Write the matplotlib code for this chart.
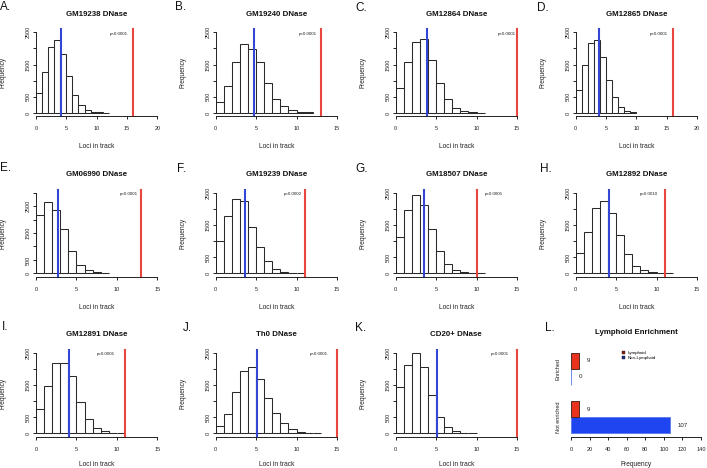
import matplotlib
matplotlib.use("Agg")
import matplotlib.pyplot as plt
from matplotlib.patches import Patch
import numpy as np

plt.rcParams['font.family'] = ['Liberation Sans', 'DejaVu Sans']

# ---------------- data ----------------
panel_letters = ["A.", "B.", "C.", "D.", "E.", "F.", "G.", "H.", "I.", "J.", "K."]
titles = ["GM19238 DNase", "GM19240 DNase", "GM12864 DNase", "GM12865 DNase",
          "GM06990 DNase", "GM19239 DNase", "GM18507 DNase", "GM12892 DNase",
          "GM12891 DNase", "Th0 DNase", "CD20+ DNase"]
counts_A = [617, 1276, 2037, 2253, 1821, 1142, 545, 247, 82, 41, 20, 10]
counts_B = [340, 823, 1584, 2130, 1975, 1584, 936, 432, 206, 82, 30, 15]
counts_C = [772, 1574, 2191, 2284, 1636, 916, 432, 154, 62, 30, 10]
counts_D = [700, 1481, 2171, 2274, 1728, 1008, 494, 195, 72, 30]
counts_E = [2169, 2664, 2342, 1660, 830, 297, 124, 50, 25]
counts_F = [1012, 1777, 2314, 2242, 1446, 806, 372, 134, 52, 21, 10]
counts_G = [1116, 1973, 2428, 2128, 1384, 692, 279, 103, 41, 21, 10]
counts_H = [620, 1271, 2014, 2242, 1870, 1178, 589, 217, 103, 41, 21, 10]
counts_I = [764, 1477, 2169, 2190, 1787, 971, 455, 176, 62, 21, 10]
counts_J = [217, 610, 1291, 1942, 2066, 1694, 1105, 640, 310, 124, 41, 21, 10]
counts_K = [1426, 2128, 2500, 2066, 1178, 506, 186, 62, 21, 10]
all_counts = [counts_A, counts_B, counts_C, counts_D, counts_E, counts_F,
              counts_G, counts_H, counts_I, counts_J, counts_K]
mean_loci = [4.12, 4.69, 3.86, 3.9, 2.76, 3.58, 3.45, 4.07, 4.04, 5.1, 5.1]
observed_loci = [16, 13, 15, 16, 13, 11, 10, 11, 11, 15, 15]
p_labels = ["p<0.0001", "p<0.0001", "p<0.0001", "p<0.0001", "p<0.0001", "p=0.0002",
            "p=0.0005", "p=0.0010", "p=0.0005", "p<0.0001", "p<0.0001"]
x_max = [20, 15, 15, 20, 15, 15, 15, 15, 15, 15, 15]
y_max = [2500, 2500, 2500, 2500, 3000, 2500, 2500, 2500, 2500, 2500, 2500]

lymph_groups = ["Not enriched", "Enriched"]
lymphoid_vals = [9, 9]
nonlymphoid_vals = [107, 0]
lymph_series = ["Lymphoid", "Non-Lymphoid"]

# ---------------- layout (pixels) ----------------
W, H = 707, 468
fig = plt.figure(figsize=(W / 100, H / 100), dpi=100)

col_x0 = [36.0, 215.7, 395.7, 575.7]
col_w = 121.3
row_top = [29.1, 189.5, 349.5]
row_h = 87.1
xlabel_gap = [27.0, 27.0, 24.5]
p_text_x = [13.7, 11.4, 13.7, 13.7, 11.5, 9.5, 12.1, 9.1, 8.6, 12.8, 12.9]
letter_pos = [(0, 10.5), (175, 10.5), (355, 10.7), (537, 10.7),
              (0, 171), (176.5, 171.5), (355, 171.5), (540, 171.5),
              (1.5, 330.5), (183, 331), (355, 331), (545, 331)]

RED = '#e8453c'
BLUE = '#3347d4'
FS_TICK = 4.0
FS_LAB = 4.8
FS_TITLE = 5.7


def make_axes(x0, top, w, h):
    return fig.add_axes([x0 / W, 1 - (top + h) / H, w / W, h / H])


def style_axes(ax, w, h, gap):
    for s in ['top', 'right']:
        ax.spines[s].set_visible(False)
    for s in ['left', 'bottom']:
        ax.spines[s].set_linewidth(0.7)
        ax.spines[s].set_color('#222222')
    ax.tick_params(axis='both', length=2.0, width=0.7, color='#222222',
                   labelsize=FS_TICK, labelcolor='#222222')
    ax.tick_params(axis='x', pad=5.2)
    ax.tick_params(axis='y', pad=1.6)
    ax.xaxis.set_label_coords(0.5, -gap / h)


for i in range(11):
    r, c = divmod(i, 4)
    ax = make_axes(col_x0[c], row_top[r], col_w, row_h)
    cnt = all_counts[i]
    edges = np.arange(len(cnt) + 1)
    ax.bar(edges[:-1], cnt, width=1.0, align='edge', facecolor='white',
           edgecolor='#2a2a2a', linewidth=0.75)
    ymx = y_max[i]
    ax.set_xlim(0, x_max[i])
    ax.set_ylim(-0.04 * ymx, 1.04 * ymx)
    ax.axvline(mean_loci[i], color=BLUE, linewidth=1.5, clip_on=False)
    ax.axvline(observed_loci[i], color=RED, linewidth=1.5, clip_on=False)
    ax.text(p_text_x[i], 0.985 * ymx, p_labels[i], ha='center', va='center',
            fontsize=3.2, color='#222222')
    style_axes(ax, col_w, row_h, xlabel_gap[r])
    ax.spines['left'].set_bounds(0, ymx)
    ax.spines['bottom'].set_bounds(0, x_max[i])
    xt = np.arange(0, x_max[i] + 1, 5)
    ax.set_xticks(xt)
    ax.set_xticklabels([str(v) for v in xt])
    yt = np.arange(0, ymx + 1, 500)
    ax.set_yticks(yt)
    ax.set_yticklabels([str(int(v)) if (v == 0 or (v // 500) % 2 == 1) and v != 3000 else ''
                        for v in yt], rotation=90, va='center')
    ax.set_xlabel("Loci in track", fontsize=FS_LAB, color='#222222')
    ax.set_ylabel("Frequency", fontsize=FS_LAB, color='#222222')
    ax.yaxis.set_label_coords(-29.5 / col_w, 0.5)
    ax.annotate(titles[i], xy=(0.5, 1.0), xycoords='axes fraction',
                xytext=(0, 10.8), textcoords='offset points', ha='center',
                va='center', fontsize=FS_TITLE, fontweight='bold', color='#111111')

# ---------------- panel L ----------------
Lx0, Lw = 571.0, 130.0
axL = make_axes(Lx0, row_top[2], Lw, row_h)
group_centers = np.array([2.0, 5.0])
axL.barh(group_centers - 0.5, nonlymphoid_vals, height=1.0, color='#1f45f0',
         edgecolor='#5a78e8', linewidth=0.6, label=lymph_series[1])
axL.barh(group_centers + 0.5, lymphoid_vals, height=1.0, color='#e8321e',
         edgecolor='#3a1a10', linewidth=0.6, label=lymph_series[0])
for yc, v in zip(group_centers - 0.5, nonlymphoid_vals):
    axL.annotate(str(v), xy=(v, yc), xytext=(5.5, 0), textcoords='offset points',
                 ha='left', va='center', fontsize=4.4, color='#222222')
for yc, v in zip(group_centers + 0.5, lymphoid_vals):
    axL.annotate(str(v), xy=(v, yc), xytext=(5.5, 0), textcoords='offset points',
                 ha='left', va='center', fontsize=4.4, color='#222222')
axL.set_xlim(0, 140)
axL.set_ylim(0.8, 6.2)
style_axes(axL, Lw, row_h, xlabel_gap[2])
axL.spines['left'].set_visible(False)
axL.spines['bottom'].set_bounds(0, 140)
axL.set_xticks(np.arange(0, 141, 20))
axL.set_yticks(group_centers)
axL.set_yticklabels(lymph_groups, rotation=90, va='center')
axL.tick_params(axis='y', length=0, pad=7.5)
axL.set_xlabel("Frequency", fontsize=FS_LAB, color='#222222')
axL.annotate("Lymphoid Enrichment", xy=(0.5, 1.0), xycoords='axes fraction',
             xytext=(0, 12.0), textcoords='offset points', ha='center',
             va='center', fontsize=FS_TITLE, fontweight='bold', color='#111111')
handles = [Patch(facecolor='#8a1a10', edgecolor='#222222', linewidth=0.3),
           Patch(facecolor='#1a2a8a', edgecolor='#222222', linewidth=0.3)]
axL.legend(handles, lymph_series, loc='upper left', bbox_to_anchor=(0.39, 0.985),
           fontsize=3.2, frameon=False, handlelength=0.7, handleheight=0.7,
           handletextpad=0.6, labelspacing=0.25, borderpad=0, borderaxespad=0)

# panel letters
for lab, (px, py) in zip(panel_letters + ["L."], letter_pos):
    fig.text(px / W, 1 - py / H, lab, fontsize=8.5, ha='left', va='baseline',
             color='#111111')

fig.savefig("out.png", dpi=100)
